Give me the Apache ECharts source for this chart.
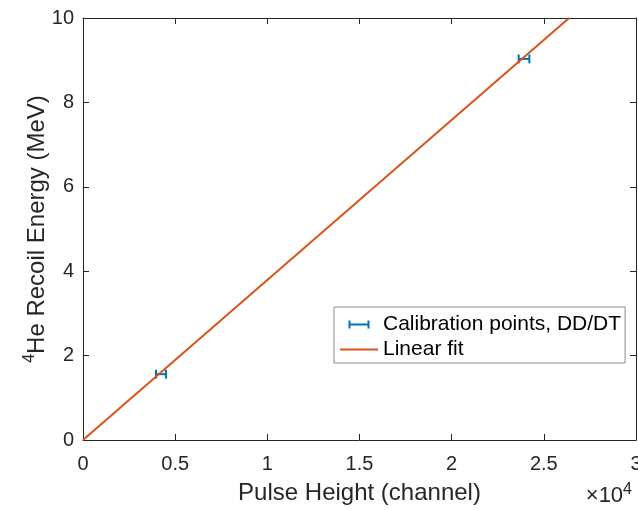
<!DOCTYPE html>
<html><head><meta charset="utf-8">
<script src="https://cdn.jsdelivr.net/npm/echarts@6/dist/echarts.min.js"></script>
<style>html,body{margin:0;padding:0;background:#fff}#c{width:638px;height:510px}</style>
</head><body><div id="c"></div>
<script>
// Calibration points (pulse height in channels, energy in MeV, horizontal error in channels)
var calX = [4230, 23925];
var calY = [1.56, 9.03];
var calErr = [270, 290];
// Linear fit endpoints
var fitX = [0, 26370];
var fitY = [0, 10];
var xTicks = [0, 5000, 10000, 15000, 20000, 25000, 30000];
var yTicks = [0, 2, 4, 6, 8, 10];

var FONT = 'Liberation Sans, Arial, Helvetica, sans-serif';
var AX = '#262626';
var chart = echarts.init(document.getElementById('c'), null, {renderer: 'canvas'});

var calData = calX.map(function (x, i) { return [x, calY[i], calErr[i]]; });
var fitData = fitX.map(function (x, i) { return [x, fitY[i]]; });

function baseX(pos, show) {
  return {
    type: 'value', position: pos, min: 0, max: 30000, interval: 5000,
    axisLine: {show: true, onZero: false, lineStyle: {color: AX, width: 1}},
    axisTick: {show: true, inside: true, length: 6, lineStyle: {color: AX}},
    axisLabel: {show: show, color: AX, fontSize: 20, fontFamily: FONT, margin: 14,
      formatter: function (v) { return String(v / 10000); }},
    splitLine: {show: false}
  };
}
function baseY(pos, show) {
  return {
    type: 'value', position: pos, min: 0, max: 10, interval: 2,
    axisLine: {show: true, onZero: false, lineStyle: {color: AX, width: 1}},
    axisTick: {show: true, inside: true, length: 6, lineStyle: {color: AX}},
    axisLabel: {show: show, color: AX, fontSize: 20, fontFamily: FONT, margin: 9},
    splitLine: {show: false}
  };
}

var xb = baseX('bottom', true);
xb.name = 'Pulse Height (channel)';
xb.nameLocation = 'middle';
xb.nameGap = 41;
xb.nameMoveOverlap = false;
xb.nameTextStyle = {color: AX, fontSize: 24, fontFamily: FONT};
var xt = baseX('top', false);
var yl = baseY('left', true);
yl.name = '{sup|4}{n|He Recoil Energy (MeV)}';
yl.nameLocation = 'middle';
yl.nameGap = 31;
yl.nameMoveOverlap = false;
yl.nameRotate = 90;
yl.nameTextStyle = {color: AX, fontSize: 24, fontFamily: FONT,
  rich: {
    sup: {fontSize: 16, fontFamily: FONT, color: AX, verticalAlign: 'top', lineHeight: 30, padding: [0, 0, 12, 0]},
    n: {fontSize: 24, fontFamily: FONT, color: AX, lineHeight: 30}
  }};
var yr = baseY('right', false);

var option = {
  animation: false,
  backgroundColor: '#fff',
  grid: {left: 83, top: 18, right: 2, bottom: 70, containLabel: false, outerBoundsMode: 'none'},
  xAxis: [xb, xt],
  yAxis: [yl, yr],
  legend: {
    orient: 'vertical', left: 334, top: 307,
    padding: [7, 4, 3, 6], itemGap: 4,
    itemWidth: 38, itemHeight: 8,
    borderColor: '#8c8c8c', borderWidth: 1, backgroundColor: '#fff',
    textStyle: {color: '#000', fontSize: 21, fontFamily: FONT, lineHeight: 21},
    data: [
      {name: 'Calibration points, DD/DT',
       icon: 'path://M0,0h2v8h-2z M2,3h17v2h-17z M19,0h2v8h-2z',
       itemStyle: {color: '#0072BD'}},
      {name: 'Linear fit', icon: 'path://M0,0h38v2h-38z', itemStyle: {color: '#D95319'}}
    ]
  },
  series: [
    {
      name: 'Calibration points, DD/DT', type: 'custom', xAxisIndex: 0, yAxisIndex: 0,
      itemStyle: {color: '#0072BD'},
      data: calData, z: 3,
      renderItem: function (params, api) {
        var x = api.value(0), y = api.value(1), e = api.value(2);
        var p1 = api.coord([x - e, y]);
        var p2 = api.coord([x + e, y]);
        var c = 4.5;
        var st = {stroke: '#0072BD', lineWidth: 2, fill: null};
        return {type: 'group', children: [
          {type: 'line', shape: {x1: p1[0], y1: p1[1], x2: p2[0], y2: p2[1]}, style: st},
          {type: 'line', shape: {x1: p1[0], y1: p1[1] - c, x2: p1[0], y2: p1[1] + c}, style: st},
          {type: 'line', shape: {x1: p2[0], y1: p2[1] - c, x2: p2[0], y2: p2[1] + c}, style: st}
        ]};
      }
    },
    {
      name: 'Linear fit', type: 'line', xAxisIndex: 0, yAxisIndex: 0,
      data: fitData, showSymbol: false, symbol: 'none', z: 4,
      lineStyle: {color: '#D95319', width: 2}, itemStyle: {color: '#D95319'}
    }
  ],
  graphic: [
    {type: 'text', right: 6, top: 482,
     style: {text: '×10{sup|4}', fill: AX, font: '22px ' + FONT,
       rich: {sup: {fontSize: 16, fontFamily: FONT, fill: AX, verticalAlign: 'top', padding: [0, 0, 11, 0]}}}}
  ]
};
chart.setOption(option);
</script></body></html>
